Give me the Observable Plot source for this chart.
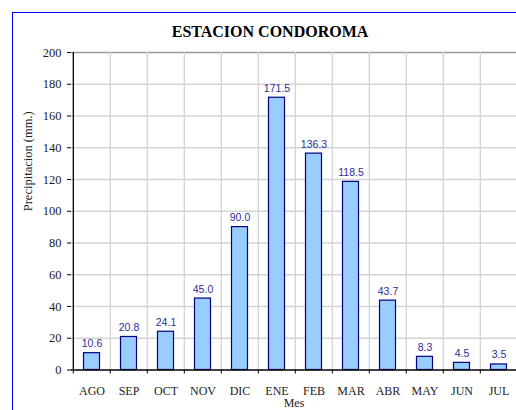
<!DOCTYPE html>
<html>
<head>
<meta charset="utf-8">
<script src="https://cdn.jsdelivr.net/npm/d3@7"></script>
<script src="https://cdn.jsdelivr.net/npm/@observablehq/plot@0.6"></script>
<style>
  html, body { margin: 0; padding: 0; background: #fff; }
  #wrap { position: relative; width: 516px; height: 410px; overflow: hidden; }
  #border { position: absolute; left: 12px; top: 12px; width: 600px; height: 500px;
            border-left: 1.5px solid #0000ff; border-top: 1.5px solid #0000ff; pointer-events: none; }
  #chart { position: absolute; left: 0; top: 0; }
</style>
</head>
<body>
<div id="wrap"><div id="chart"></div><div id="border"></div></div>
<script>
const title = "ESTACION CONDOROMA";
const xLabel = "Mes";
const yLabel = "Precipitacion (mm.)";
const months = ["AGO","SEP","OCT","NOV","DIC","ENE","FEB","MAR","ABR","MAY","JUN","JUL"];
const precip = [10.6, 20.8, 24.1, 45.0, 90.0, 171.5, 136.3, 118.5, 43.7, 8.3, 4.5, 3.5];
const yTicks = [0, 20, 40, 60, 80, 100, 120, 140, 160, 180, 200];

const data = months.map((m, i) => ({month: m, value: precip[i]}));
const bw = (519.5 - 71) / months.length;
const serif = "'Liberation Serif', 'Times New Roman', serif";

const chart = Plot.plot({
  width: 516,
  height: 410,
  marginLeft: 71,
  marginTop: 52,
  marginBottom: 40.5,
  marginRight: 0,
  style: {fontFamily: serif, fontSize: "12px", color: "#222", background: "white"},
  x: {type: "band", domain: months, range: [71, 519.5], padding: 0, axis: null},
  y: {domain: [0, 200], range: [369.5, 52], axis: null},
  marks: [
    Plot.ruleY(yTicks.filter(d => d > 0 && d < 200), {stroke: "#d4d4d4", strokeWidth: 1.3}),
    Plot.ruleY([200], {stroke: "#999", strokeWidth: 1.3}),
    Plot.ruleX(months.slice(1), {dx: -bw / 2, stroke: "#d4d4d4", strokeWidth: 1.3}),
    Plot.barY(data, {x: "month", y: "value", fill: "#99ccff", stroke: "#000080",
                     strokeWidth: 1.2, insetLeft: 10.5, insetRight: 10.5}),
    Plot.text(data, {x: "month", y: "value", text: d => d.value.toFixed(1),
                     lineAnchor: "bottom", dy: -6, fill: "#2e2e9a",
                     fontFamily: "'Liberation Sans', Arial, sans-serif", fontSize: 10.5}),
    Plot.ruleY([0], {stroke: "#000", strokeWidth: 1.3}),
    Plot.ruleX([0], {x: () => months[0], dx: -bw / 2, stroke: "#000", strokeWidth: 1.3,
                     y1: 0, y2: 200}),
    Plot.axisY(yTicks, {tickSize: 4, text: null, stroke: "#000", label: null}),
    Plot.text(yTicks, {y: d => d, text: d => String(d), frameAnchor: "left", textAnchor: "end",
                       dx: -10, fontFamily: serif, fontSize: 12.5, fill: "#222"}),
    Plot.axisX({tickSize: 4, dx: -bw / 2, text: null, stroke: "#000", label: null}),
    Plot.axisX({tickSize: 0, tickPadding: 16, fontSize: 12, fontFamily: serif, fill: "#222", label: null}),
    Plot.text([title], {frameAnchor: "top", dx: -24, dy: -16, lineAnchor: "bottom",
                        fontFamily: serif, fontWeight: "bold", fontSize: 16, fill: "#000"}),
    Plot.text([yLabel], {frameAnchor: "left", dx: -43.5, rotate: -90, fontFamily: serif,
                         fontSize: 12.5, fill: "#222"}),
    Plot.text([xLabel], {frameAnchor: "bottom", dy: 37, lineAnchor: "bottom", fontFamily: serif,
                         fontSize: 12, fill: "#222"})
  ]
});
document.getElementById("chart").append(chart);
</script>
</body>
</html>
